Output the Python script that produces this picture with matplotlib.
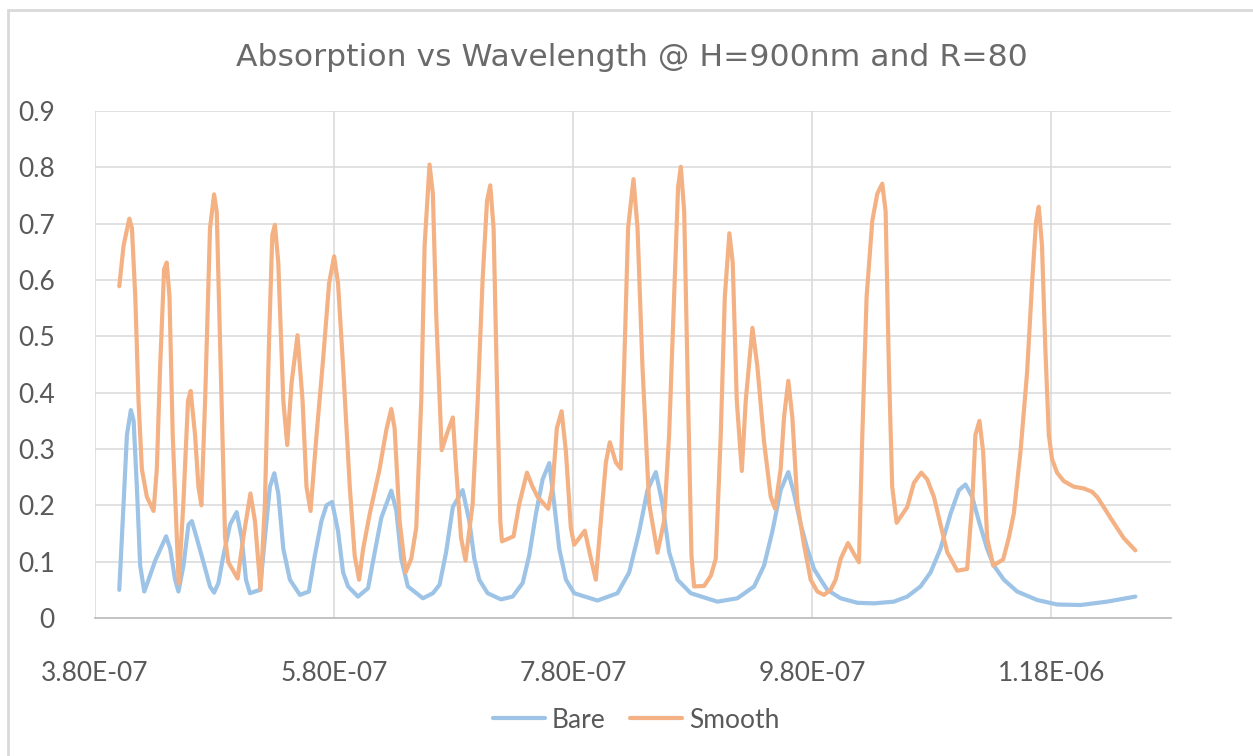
import matplotlib.pyplot as plt
from matplotlib.patches import Rectangle
from matplotlib.ticker import FixedLocator, FuncFormatter

# wavelength in nm and absorption
bare_nm = [400.3, 403.9, 406.7, 410, 412.3, 415, 417.8, 421.2, 424.8, 430.4,
           439.5, 442.9, 447, 449.8, 454, 458.2, 461, 465.1, 470.7, 476.2,
           479.6, 483.2, 487.4, 493, 498.5, 502.7, 506.3, 509.6, 518, 522.1,
           526.3, 530, 533.3, 537.5, 543, 551.4, 558.9, 563.9, 569.4, 573.6,
           578.3, 583.3, 587.5, 591.7, 600, 608.4, 614, 619.5, 627.8, 632,
           636.2, 641.7, 654.3, 662.6, 668.2, 673.7, 679.3, 687.5, 693.1,
           697.3, 701.4, 708.4, 719.6, 729.3, 737.7, 743.2, 748.8, 754.4, 760,
           764.1, 768.3, 773.9, 780.8, 800.3, 817, 826.8, 835.2, 842.1, 849.1,
           854.6, 860.2, 867.2, 878.3, 900.6, 917.3, 931.3, 939.6, 946.6,
           953.5, 959.9, 964.7, 970.3, 975.8, 981.4, 987, 992.5, 1003.7,
           1017.6, 1031.5, 1048.2, 1059.4, 1070.5, 1078.9, 1087.2, 1095.6,
           1102.6, 1108.1, 1113.7, 1119.3, 1126.2, 1131.8, 1140.2, 1151.3,
           1168, 1184.7, 1204.2, 1226.5, 1250.2]
bare_abs = [0.050, 0.203, 0.325, 0.369, 0.350, 0.233, 0.093, 0.047, 0.068,
            0.102, 0.145, 0.123, 0.068, 0.047, 0.093, 0.166, 0.172, 0.142,
            0.099, 0.056, 0.045, 0.062, 0.111, 0.166, 0.188, 0.142, 0.068,
            0.044, 0.050, 0.142, 0.233, 0.257, 0.221, 0.123, 0.068, 0.041,
            0.047, 0.111, 0.172, 0.200, 0.206, 0.154, 0.081, 0.056, 0.038,
            0.053, 0.117, 0.178, 0.226, 0.191, 0.105, 0.056, 0.035, 0.044,
            0.059, 0.117, 0.197, 0.227, 0.172, 0.105, 0.068, 0.044, 0.033,
            0.038, 0.062, 0.111, 0.185, 0.246, 0.275, 0.203, 0.123, 0.068,
            0.044, 0.031, 0.044, 0.081, 0.154, 0.227, 0.259, 0.203, 0.117,
            0.068, 0.044, 0.029, 0.035, 0.056, 0.093, 0.154, 0.227, 0.259,
            0.221, 0.166, 0.123, 0.087, 0.068, 0.050, 0.035, 0.027, 0.026,
            0.029, 0.038, 0.056, 0.081, 0.123, 0.185, 0.227, 0.237, 0.215,
            0.172, 0.123, 0.093, 0.068, 0.047, 0.032, 0.024, 0.023, 0.029,
            0.038]

smooth_nm = [400.3, 403.9, 408.7, 410.9, 413.7, 416.4, 419.2, 423.4, 429,
             431.7, 434.5, 437.8, 440, 442.3, 445, 450, 453.9, 457.8, 460,
             463.7, 466.5, 469, 472.1, 476.2, 479.6, 481.8, 485.1, 488.8,
             491.5, 499.3, 504, 510, 513.8, 518.5, 522.1, 525.8, 528.3, 530.5,
             533.3, 537.5, 540.8, 544.4, 549.4, 553.6, 556.9, 560.3, 565.3,
             570.8, 575.8, 580, 583.3, 587.5, 593.1, 597.2, 600.9, 604.3,
             609.8, 618, 623.7, 627.8, 630.6, 634.8, 639.8, 644.5, 648.7,
             652.9, 655.7, 659.8, 662.6, 665.4, 670, 675, 679.3, 682.1, 686.2,
             689.9, 695.9, 700.1, 704.2, 707.9, 710.6, 713.4, 716.2, 719,
             720.4, 730.1, 734.9, 741.3, 746, 750.2, 759.1, 762.7, 766.3,
             770.3, 773.9, 778, 780.8, 789.7, 794.2, 798.9, 803.1, 807.3,
             810.6, 815.7, 819.8, 822.6, 825.9, 830.4, 833.8, 837.9, 843.5,
             850.5, 856, 860.2, 864.4, 867.7, 870, 872.8, 876.1, 878.9, 881.1,
             889.5, 895.1, 899.2, 903.4, 906.8, 910.6, 913.4, 916.8, 921,
             924.3, 929.9, 934, 939.6, 945.2, 948.8, 953.5, 956.3, 959.9,
             963.3, 967.5, 973, 978.6, 984.2, 989.7, 995.3, 999.5, 1003.7,
             1009.8, 1014.8, 1019, 1021.8, 1025.4, 1030.1, 1034.3, 1038.5,
             1041.3, 1044, 1046.8, 1050.5, 1059.4, 1065, 1071.1, 1076.1,
             1081.7, 1087.2, 1092.8, 1101.2, 1109.5, 1113.7, 1116.4, 1119.8,
             1122.9, 1126.2, 1131.3, 1139.6, 1144.3, 1148.5, 1154.1, 1159.6,
             1163.8, 1167.1, 1169.4, 1172.1, 1174.9, 1177.8, 1180.5, 1184.7,
             1190.3, 1198.7, 1207, 1214, 1218.2, 1223.7, 1229.3, 1240.4,
             1250.2]
smooth_abs = [0.589, 0.661, 0.709, 0.692, 0.570, 0.386, 0.264, 0.215, 0.190,
              0.264, 0.447, 0.619, 0.631, 0.570, 0.325, 0.061, 0.203, 0.386,
              0.403, 0.325, 0.233, 0.200, 0.386, 0.692, 0.752, 0.722, 0.447,
              0.142, 0.099, 0.070, 0.142, 0.221, 0.172, 0.050, 0.203, 0.509,
              0.680, 0.698, 0.631, 0.386, 0.307, 0.417, 0.502, 0.386, 0.233,
              0.190, 0.325, 0.459, 0.594, 0.642, 0.594, 0.447, 0.233, 0.111,
              0.068, 0.123, 0.185, 0.264, 0.334, 0.371, 0.337, 0.172, 0.081,
              0.105, 0.160, 0.386, 0.661, 0.805, 0.753, 0.539, 0.298, 0.331,
              0.356, 0.264, 0.142, 0.102, 0.203, 0.386, 0.600, 0.741, 0.768,
              0.692, 0.417, 0.172, 0.136, 0.145, 0.203, 0.258, 0.233, 0.215,
              0.194, 0.233, 0.337, 0.367, 0.295, 0.160, 0.130, 0.155, 0.111,
              0.068, 0.172, 0.276, 0.312, 0.276, 0.265, 0.447, 0.692, 0.779,
              0.692, 0.447, 0.203, 0.116, 0.172, 0.325, 0.570, 0.765, 0.801,
              0.722, 0.386, 0.111, 0.056, 0.057, 0.075, 0.105, 0.325, 0.570,
              0.683, 0.631, 0.386, 0.261, 0.386, 0.515, 0.447, 0.313, 0.215,
              0.194, 0.264, 0.356, 0.421, 0.356, 0.203, 0.130, 0.068, 0.047,
              0.041, 0.050, 0.068, 0.105, 0.133, 0.114, 0.099, 0.325, 0.570,
              0.704, 0.753, 0.771, 0.722, 0.447, 0.233, 0.169, 0.197, 0.240,
              0.258, 0.246, 0.215, 0.166, 0.117, 0.084, 0.087, 0.203, 0.325,
              0.350, 0.295, 0.142, 0.093, 0.104, 0.142, 0.185, 0.295, 0.435,
              0.594, 0.704, 0.730, 0.661, 0.478, 0.325, 0.282, 0.258, 0.243,
              0.233, 0.230, 0.224, 0.215, 0.197, 0.178, 0.142, 0.120]

x_ticks_nm = [380, 580, 780, 980, 1180]
y_ticks = [0, 0.1, 0.2, 0.3, 0.4, 0.5, 0.6, 0.7, 0.8, 0.9]

txt = "#595959"
plt.rcParams["font.family"] = ["Lato", "DejaVu Sans"]

fig = plt.figure(figsize=(12.53, 7.56), dpi=100)
ax = fig.add_axes([95 / 1253, 1 - 618 / 756, 1076 / 1253, 507 / 756])

ax.plot([v * 1e-9 for v in bare_nm], bare_abs, color="#9dc3e6", lw=3.0,
        solid_joinstyle="round", solid_capstyle="round", label="Bare",
        zorder=3)
ax.plot([v * 1e-9 for v in smooth_nm], smooth_abs, color="#f4b183", lw=3.0,
        solid_joinstyle="round", solid_capstyle="round", label="Smooth",
        zorder=3)

ax.set_xlim(380e-9, 1280e-9)
ax.set_ylim(0, 0.9)
ax.xaxis.set_major_locator(FixedLocator([v * 1e-9 for v in x_ticks_nm]))
ax.xaxis.set_major_formatter(FuncFormatter(lambda v, p: f"{v:.2E}"))
ax.set_yticks(y_ticks)
ax.set_yticklabels(["0"] + [f"{v:.1f}" for v in y_ticks[1:]])

ax.grid(True, color="#d9d9d9", lw=1.1, zorder=0)
for s in ["top", "right", "left"]:
    ax.spines[s].set_visible(False)
ax.spines["bottom"].set_color("#bfbfbf")
ax.spines["bottom"].set_linewidth(1.3)
ax.tick_params(length=0, labelsize=19, colors=txt)
ax.tick_params(axis="y", pad=29)
ax.tick_params(axis="x", pad=31)

fig.text(0.504, 1 - 57 / 756, "Absorption vs Wavelength @ H=900nm and R=80",
         ha="center", va="center", fontsize=22.6, color="#6a6a6a",
         family="DejaVu Sans")

fig.legend(loc="center", bbox_to_anchor=(636 / 1253, 1 - 720 / 756), ncol=2,
           frameon=False, fontsize=19, labelcolor=txt, handlelength=2.0,
           handletextpad=0.25, columnspacing=0.9)

fig.patches.append(Rectangle((8 / 1253, -0.1), 1.2, 1 - 10 / 756 + 0.1,
                             transform=fig.transFigure, fill=False,
                             edgecolor="#d9d9d9", lw=2))

fig.savefig("out.png", dpi=100)
